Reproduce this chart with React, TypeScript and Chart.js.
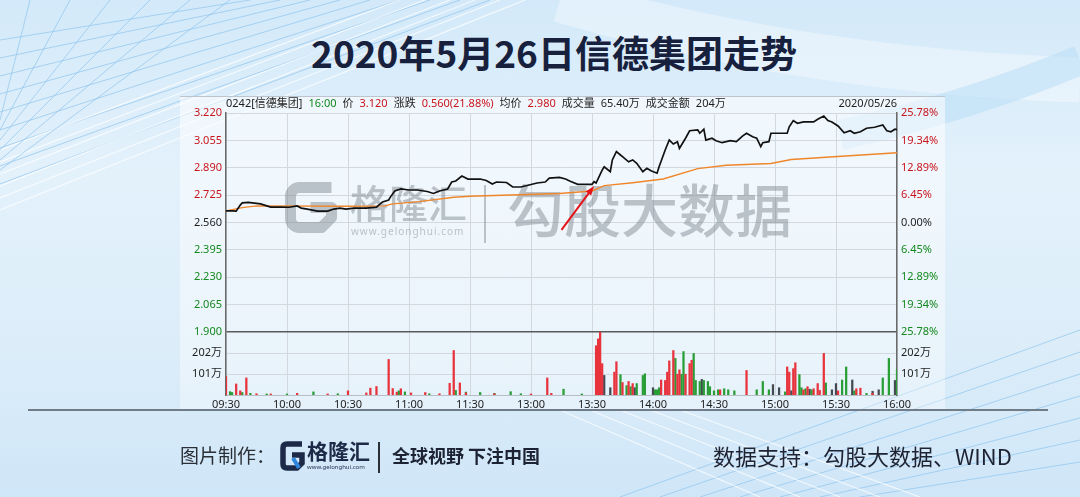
import React, { useEffect, useRef } from "react";
import { Chart, registerables } from "chart.js";

Chart.register(...registerables);

// ---------------- DATA ----------------
const timeLabels = ["09:30", "10:00", "10:30", "11:00", "11:30", "13:00", "13:30", "14:00", "14:30", "15:00", "15:30", "16:00"];
const totalMinutes = 330;
const prevClose = 2.56;
const priceTicks = [3.22, 3.055, 2.89, 2.725, 2.56, 2.395, 2.23, 2.065, 1.9];
const volTicks = [202, 101]; // 万
const volPanelMax = 303; // 万

// minute index (0 = 09:30, 330 = 16:00) and price
const priceIdx = [0, 3, 5, 7, 8, 11, 13, 17, 22, 27, 31, 35, 37, 40, 45, 50, 53, 56, 59, 63, 69, 74, 77, 80, 81, 83, 86, 90, 94, 99, 102, 105, 109, 111, 113, 116, 119, 125, 128, 131, 133, 138, 141, 145, 149, 153, 157, 159, 164, 167, 169, 173, 180, 181, 182, 185, 186, 189, 190, 192, 194, 195, 198, 200, 202, 205, 207, 209, 212, 213, 216, 218, 220, 222, 223, 226, 228, 232, 233, 235, 236, 239, 241, 244, 248, 251, 254, 256, 259, 261, 263, 264, 267, 268, 276, 277, 279, 281, 284, 289, 291, 294, 296, 298, 301, 304, 307, 309, 312, 315, 319, 323, 325, 327, 329, 330];
const priceVals = [2.630, 2.630, 2.628, 2.665, 2.678, 2.681, 2.678, 2.672, 2.653, 2.653, 2.652, 2.660, 2.647, 2.641, 2.629, 2.629, 2.641, 2.647, 2.641, 2.647, 2.647, 2.653, 2.684, 2.696, 2.716, 2.750, 2.762, 2.756, 2.756, 2.747, 2.735, 2.750, 2.762, 2.804, 2.810, 2.840, 2.822, 2.822, 2.813, 2.792, 2.804, 2.801, 2.774, 2.774, 2.786, 2.798, 2.804, 2.828, 2.832, 2.822, 2.810, 2.790, 2.790, 2.806, 2.798, 2.876, 2.896, 2.866, 2.937, 2.987, 2.967, 2.957, 2.926, 2.937, 2.917, 2.866, 2.887, 2.872, 2.857, 2.896, 2.997, 3.057, 3.033, 3.047, 3.007, 3.068, 3.113, 3.118, 3.098, 3.122, 3.057, 3.068, 3.053, 3.041, 3.053, 3.047, 3.081, 3.098, 3.077, 3.068, 3.017, 3.041, 3.047, 3.098, 3.098, 3.137, 3.174, 3.158, 3.166, 3.166, 3.182, 3.202, 3.174, 3.166, 3.142, 3.101, 3.113, 3.098, 3.107, 3.128, 3.134, 3.148, 3.113, 3.107, 3.122, 3.120];

const avgIdx = [0, 8, 15, 60, 78, 82, 95, 112, 120, 164, 180, 186, 200, 215, 232, 246, 268, 278, 297, 330];
const avgVals = [2.630, 2.650, 2.660, 2.658, 2.660, 2.672, 2.686, 2.712, 2.718, 2.735, 2.750, 2.782, 2.800, 2.822, 2.885, 2.905, 2.916, 2.940, 2.955, 2.980];

// volume bars [minute index, 万]
const volUp = [[0, 89], [5, 53], [7, 20], [10, 82], [15, 6], [22, 5], [35, 8], [50, 5], [60, 20], [69, 10], [71, 33], [74, 41], [80, 171], [82, 31], [84, 14], [86, 30], [91, 10], [98, 12], [105, 6], [110, 56], [112, 214], [115, 58], [118, 10], [132, 6], [150, 5], [158, 82], [160, 8], [182, 237], [183, 270], [184, 302], [185, 151], [191, 110], [192, 160], [195, 60], [198, 65], [200, 55], [214, 72], [216, 70], [217, 110], [218, 164], [220, 214], [222, 100], [223, 121], [226, 100], [228, 151], [229, 167], [243, 25], [256, 118], [276, 135], [277, 110], [279, 127], [280, 155], [284, 25], [286, 40], [289, 30], [291, 55], [292, 22], [294, 200], [301, 20], [310, 30], [312, 33], [318, 8]];
const volDown = [[2, 16], [3, 12], [8, 12], [12, 8], [20, 5], [30, 5], [43, 15], [55, 6], [85, 20], [88, 15], [100, 6], [113, 22], [118, 14], [125, 12], [132, 8], [140, 16], [145, 6], [166, 28], [175, 5], [194, 98], [197, 45], [199, 40], [202, 55], [205, 94], [206, 102], [211, 25], [212, 25], [213, 35], [221, 176], [224, 100], [225, 209], [230, 200], [231, 70], [233, 65], [235, 70], [237, 65], [238, 40], [240, 20], [242, 25], [245, 30], [247, 25], [250, 20], [261, 25], [264, 65], [267, 25], [275, 15], [282, 98], [283, 35], [285, 30], [288, 25], [295, 58], [303, 72], [305, 135], [309, 20], [315, 8], [323, 82], [326, 176], [330, 122]];
const volFlat = [[186, 94], [189, 35], [201, 35], [210, 35], [234, 75], [269, 50], [272, 35], [278, 20], [287, 28], [298, 25], [300, 55], [308, 72], [318, 18], [321, 25], [329, 70]];

const headerTexts = ["0242[信德集团]", "16:00", "价", "3.120", "涨跌", "0.560(21.88%)", "均价", "2.980", "成交量", "65.40万", "成交金额", "204万"];
const headerColors = ["k", "g", "k", "r", "k", "r", "k", "r", "k", "k", "k", "k"];
const headerDate = "2020/05/26";

const arrowTail = [165, 2.515];
const arrowHead = [181, 2.78];

// ---------------- STYLE / LAYOUT ----------------
const W = 1080;
const H = 497;
const VOL_PANEL_RATIO = 63 / 219;
const RED = "#c8161d";
const GREEN = "#15891f";
const BLACK = "#1e1e1e";
const FONT = '"Noto Sans", "Noto Sans CJK SC", sans-serif';
const colorOf = (k: string) => (k === "r" ? RED : k === "g" ? GREEN : BLACK);

const priceMax = priceTicks[0];
const pricePanelMin = priceTicks[priceTicks.length - 1];
const axisMin = pricePanelMin - (priceMax - pricePanelMin) * VOL_PANEL_RATIO;
const volToAxis = (v: number) => axisMin + (v / volPanelMax) * (pricePanelMin - axisMin);
const volAxisMax = (volPanelMax * (priceMax - axisMin)) / (pricePanelMin - axisMin);
const allTicks = [...priceTicks, ...volTicks.map(volToAxis)];
const xStep = totalMinutes / (timeLabels.length - 1);

const isVolTick = (v: number) => v < pricePanelMin - 1e-6;
const volLabelOf = (v: number) => {
  for (const t of volTicks) if (Math.abs(volToAxis(t) - v) < 1e-6) return t + "万";
  return "";
};
const sideColor = (v: number) => {
  if (isVolTick(v)) return BLACK;
  if (v > prevClose + 1e-6) return RED;
  if (v < prevClose - 1e-6) return GREEN;
  return BLACK;
};

const headerPlugin = {
  id: "header",
  afterDraw(chart: any) {
    const { ctx, chartArea } = chart;
    ctx.save();
    ctx.font = `11px ${FONT}`;
    ctx.textBaseline = "middle";
    const y = chartArea.top - 9;
    let x = chartArea.left;
    headerTexts.forEach((t, i) => {
      ctx.fillStyle = colorOf(headerColors[i]);
      ctx.textAlign = "left";
      ctx.fillText(t, x, y);
      x += ctx.measureText(t).width + 6;
    });
    ctx.fillStyle = BLACK;
    ctx.textAlign = "right";
    ctx.fillText(headerDate, chartArea.right, y);
    ctx.restore();
  },
};

const watermarkPlugin = {
  id: "watermark",
  beforeDatasetsDraw(chart: any) {
    const { ctx } = chart;
    const c = "rgba(120,128,138,0.45)";
    ctx.save();
    ctx.strokeStyle = c;
    ctx.lineWidth = 11;
    ctx.lineJoin = "round";
    const x0 = 290.5, y0 = 187.5, x1 = 331.5, y1 = 227.5, r = 9;
    const my = (y0 + y1) / 2;
    ctx.beginPath();
    ctx.moveTo(x1, y0);
    ctx.lineTo(x0 + r, y0);
    ctx.arcTo(x0, y0, x0, y0 + r, r);
    ctx.lineTo(x0, y1 - r);
    ctx.arcTo(x0, y1, x0 + r, y1, r);
    ctx.lineTo(x1 - 10, y1);
    ctx.lineTo(x1, y1 - 10);
    ctx.lineTo(x1, my);
    ctx.lineTo(x0 + 20, my);
    ctx.stroke();
    ctx.fillStyle = c;
    ctx.textBaseline = "middle";
    ctx.textAlign = "left";
    ctx.font = `500 39px "Noto Sans CJK SC"`;
    ctx.fillText("格隆汇", 350, 203);
    ctx.font = `10px ${FONT}`;
    (ctx as any).letterSpacing = "1px";
    ctx.fillText("www.gelonghui.com", 351, 232);
    (ctx as any).letterSpacing = "0px";
    ctx.fillRect(484, 185, 2, 58);
    ctx.font = `500 57px "Noto Sans CJK SC"`;
    ctx.fillText("勾股大数据", 507, 210);
    ctx.restore();
  },
};

const arrowPlugin = {
  id: "arrow",
  afterDatasetsDraw(chart: any) {
    const { ctx, scales } = chart;
    const tx = scales.x.getPixelForValue(arrowTail[0]);
    const ty = scales.y.getPixelForValue(arrowTail[1]);
    const hx = scales.x.getPixelForValue(arrowHead[0]);
    const hy = scales.y.getPixelForValue(arrowHead[1]);
    const ang = Math.atan2(hy - ty, hx - tx);
    ctx.save();
    ctx.strokeStyle = "#e3151b";
    ctx.fillStyle = "#e3151b";
    ctx.lineWidth = 2;
    ctx.beginPath();
    ctx.moveTo(tx, ty);
    ctx.lineTo(hx - Math.cos(ang) * 6, hy - Math.sin(ang) * 6);
    ctx.stroke();
    ctx.beginPath();
    ctx.moveTo(hx, hy);
    ctx.lineTo(hx - Math.cos(ang - 0.35) * 10, hy - Math.sin(ang - 0.35) * 10);
    ctx.lineTo(hx - Math.cos(ang + 0.35) * 10, hy - Math.sin(ang + 0.35) * 10);
    ctx.closePath();
    ctx.fill();
    ctx.restore();
  },
};

function buildConfig(): any {
  const toXY = (xs: number[], ys: number[]) => xs.map((x, i) => ({ x, y: ys[i] }));
  const toBars = (arr: number[][]) => arr.map(([x, y]) => ({ x, y }));
  const barCommon = {
    type: "bar",
    yAxisID: "yv",
    barThickness: 1.6,
    grouped: false,
    borderWidth: 0,
    order: 5,
  };
  return {
    type: "line",
    data: {
      datasets: [
        {
          label: "价格",
          data: toXY(priceIdx, priceVals),
          borderColor: "#111111",
          borderWidth: 1.7,
          pointRadius: 0,
          tension: 0,
          yAxisID: "y",
          order: 0,
        },
        {
          label: "均价",
          data: toXY(avgIdx, avgVals),
          borderColor: "#f0862a",
          borderWidth: 1.4,
          pointRadius: 0,
          tension: 0,
          yAxisID: "y",
          order: 1,
        },
        { ...barCommon, label: "up", data: toBars(volUp), backgroundColor: "#e8333d" },
        { ...barCommon, label: "down", data: toBars(volDown), backgroundColor: "#2a9e36" },
        { ...barCommon, label: "flat", data: toBars(volFlat), backgroundColor: "#454a52" },
      ],
    },
    options: {
      responsive: false,
      animation: false,
      devicePixelRatio: 1,
      layout: { padding: { left: 180, right: 137, top: 113, bottom: 82 } },
      plugins: { legend: { display: false }, tooltip: { enabled: false } },
      scales: {
        x: {
          type: "linear",
          offset: false,
          min: 0,
          max: totalMinutes,
          afterBuildTicks: (s: any) => {
            s.ticks = timeLabels.map((_, i) => ({ value: i * xStep }));
          },
          afterFit: (s: any) => {
            s.height = 20;
          },
          ticks: {
            autoSkip: false,
            maxRotation: 0,
            padding: 3,
            color: BLACK,
            font: { size: 11, family: FONT },
            callback: (v: number) => timeLabels[Math.round(v / xStep)],
          },
          grid: { offset: false, color: "#d2d8de", lineWidth: 1, drawTicks: false },
          border: { color: "#b8bec4", width: 1 },
        },
        y: {
          type: "linear",
          position: "left",
          min: axisMin,
          max: priceMax,
          afterBuildTicks: (s: any) => {
            s.ticks = allTicks.map((v) => ({ value: v }));
          },
          afterFit: (s: any) => {
            s.width = 46;
          },
          ticks: {
            autoSkip: false,
            padding: 4,
            font: { size: 11, family: FONT },
            color: (c: any) => sideColor(c.tick.value),
            callback: (v: number) => (isVolTick(v) ? volLabelOf(v) : v.toFixed(3)),
          },
          grid: {
            drawTicks: false,
            color: (c: any) => (c.tick && Math.abs(c.tick.value - pricePanelMin) < 1e-6 ? "#5a5a5a" : "#d2d8de"),
            lineWidth: (c: any) => (c.tick && Math.abs(c.tick.value - pricePanelMin) < 1e-6 ? 1.5 : 1),
          },
          border: { color: "#6a6a6a", width: 1.5 },
        },
        y2: {
          type: "linear",
          position: "right",
          min: axisMin,
          max: priceMax,
          afterBuildTicks: (s: any) => {
            s.ticks = allTicks.map((v) => ({ value: v }));
          },
          afterFit: (s: any) => {
            s.width = 46;
          },
          ticks: {
            autoSkip: false,
            padding: 4,
            font: { size: 11, family: FONT },
            color: (c: any) => sideColor(c.tick.value),
            callback: (v: number) =>
              isVolTick(v) ? volLabelOf(v) : (Math.abs((v - prevClose) / prevClose) * 100).toFixed(2) + "%",
          },
          grid: { display: false, drawTicks: false },
          border: { color: "#6a6a6a", width: 1.5 },
        },
        yv: { type: "linear", display: false, min: 0, max: volAxisMax },
      },
    },
    plugins: [watermarkPlugin, headerPlugin, arrowPlugin],
  };
}

function FooterLogo() {
  return (
    <svg width="26" height="30" viewBox="0 0 26 30" style={{ position: "absolute", left: 280, top: 441 }}>
      <path d="M22 3 H7 Q3 3 3 7 V23 Q3 27 7 27 H17 L22 22 V14 H12" fill="none" stroke="#1d2a47" strokeWidth="5.5" />
      <path d="M13 17 L19 27" stroke="#2f86dd" strokeWidth="4" />
    </svg>
  );
}

export default function App() {
  const ref = useRef<HTMLCanvasElement>(null);
  useEffect(() => {
    Chart.defaults.font.family = FONT;
    const chart = new Chart(ref.current as HTMLCanvasElement, buildConfig());
    return () => chart.destroy();
  }, []);

  const lineStyle = { stroke: "#8fc4ee", strokeWidth: 1, fill: "none", opacity: 0.7 } as any;
  const whiteLine = { stroke: "#ffffff", strokeWidth: 1.2, fill: "none", opacity: 0.7 } as any;

  return (
    <div
      style={{
        position: "fixed",
        left: 0,
        top: 0,
        width: W,
        height: H,
        overflow: "hidden",
        background: "linear-gradient(180deg, #d3e9f9 0%, #e3f1fb 35%, #dcedf9 70%, #cfe6f8 100%)",
        fontFamily: FONT,
      }}
    >
      <svg width={W} height={H} style={{ position: "absolute", left: 0, top: 0 }}>
        {[0, 1, 2, 3, 4, 5, 6, 7, 8].map((i) => (
          <line key={"a" + i} x1={0} y1={40 + i * 18} x2={250 + i * 30} y2={0} style={lineStyle} />
        ))}
        {[0, 1, 2, 3, 4, 5].map((i) => (
          <line key={"b" + i} x1={0} y1={150 + i * 12} x2={400 + i * 25} y2={0} style={whiteLine} />
        ))}
        {[0, 1, 2, 3, 4, 5].map((i) => (
          <line key={"c" + i} x1={30 + i * 40} y1={0} x2={0} y2={120 + i * 10} style={lineStyle} />
        ))}
        <path d="M 560 0 Q 800 70 1080 80" stroke="#ffffff" strokeWidth={45} fill="none" opacity={0.35} />
        <path d="M 840 135 Q 960 110 1080 60" stroke="#b6dbf5" strokeWidth={30} fill="none" opacity={0.5} />
        {[0, 1, 2, 3, 4, 5, 6].map((i) => (
          <line key={"d" + i} x1={620 + i * 40} y1={497} x2={1080} y2={330 + i * 22} style={lineStyle} />
        ))}
        {[0, 1, 2, 3, 4].map((i) => (
          <line key={"e" + i} x1={560 + i * 30} y1={410} x2={760 + i * 40} y2={497} style={whiteLine} />
        ))}
      </svg>
      <div
        style={{
          position: "absolute",
          left: 180,
          top: 96,
          width: 765,
          height: 313,
          background: "linear-gradient(180deg, rgba(255,255,255,0.55), rgba(255,255,255,0.35))",
          borderTop: "1px solid #bcc5cd",
        }}
      />
      <div style={{ position: "absolute", left: 28, top: 409, width: 1020, height: 2, background: "#717c88" }} />
      <div
        style={{
          position: "absolute",
          left: 0,
          width: W,
          paddingLeft: 28,
          boxSizing: "border-box",
          top: 31,
          textAlign: "center",
          fontSize: 37,
          lineHeight: "42px",
          fontWeight: 700,
          color: "#17213d",
          fontFamily: '"Noto Sans CJK SC", sans-serif',
        }}
      >
        2020年5月26日信德集团走势
      </div>
      <canvas ref={ref} width={W} height={H} style={{ position: "absolute", left: 0, top: 0 }} />
      <div style={{ position: "absolute", left: 180, top: 443, fontSize: 19, lineHeight: "24px", color: "#2b2f36", fontFamily: '"Noto Sans CJK SC", sans-serif' }}>
        图片制作：
      </div>
      <FooterLogo />
      <div style={{ position: "absolute", left: 307, top: 437, fontSize: 21, lineHeight: "26px", fontWeight: 700, color: "#1d2a47", fontFamily: '"Noto Sans CJK SC", sans-serif' }}>
        格隆汇
      </div>
      <div style={{ position: "absolute", left: 307, top: 463, fontSize: 6, lineHeight: "8px", color: "#1d2a47" }}>
        www.gelonghui.com
      </div>
      <div style={{ position: "absolute", left: 378, top: 442, width: 1.5, height: 31, background: "#2b2f36" }} />
      <div style={{ position: "absolute", left: 392, top: 443, fontSize: 18, lineHeight: "24px", fontWeight: 700, color: "#1d2333", fontFamily: '"Noto Sans CJK SC", sans-serif' }}>
        全球视野 下注中国
      </div>
      <div style={{ position: "absolute", left: 713, top: 441, fontSize: 22, lineHeight: "28px", color: "#1d2333", fontFamily: '"Noto Sans CJK SC", sans-serif' }}>
        数据支持：勾股大数据、WIND
      </div>
    </div>
  );
}
